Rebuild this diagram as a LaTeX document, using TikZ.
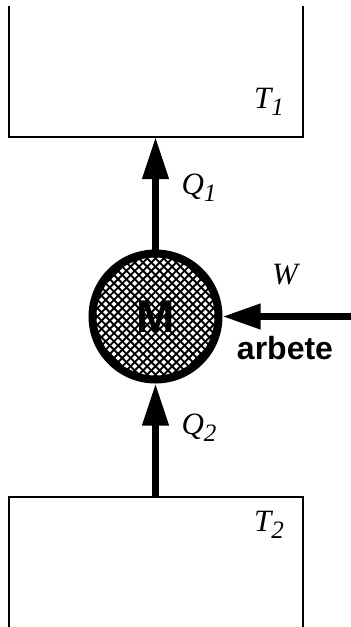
\documentclass[tikz,border=0pt]{standalone}
\usepackage{fontspec}
\setmainfont{Liberation Serif}
\setsansfont{Liberation Sans}
\usetikzlibrary{arrows.meta}
\newcommand{\sub}[1]{\raisebox{-7pt}{\fontsize{25}{25}\selectfont #1}}
\begin{document}
\begin{tikzpicture}[x=1pt,y=-1pt,
  wall/.style={line width=1.3pt},
  flow/.style={line width=7pt,-{Triangle[length=42pt,width=25pt]}},
  workflow/.style={line width=7pt,-{Triangle[length=38pt,width=24pt]}},
  lab/.style={font=\fontsize{31}{31}\selectfont\itshape, inner sep=0pt},
  hatch/.style={line width=1.9pt},
  engine/.style={circle, draw, line width=8pt, minimum size=126pt, inner sep=0pt,
    font=\fontsize{46}{46}\selectfont\sffamily\bfseries},
  bold/.style={font=\fontsize{32}{32}\selectfont\sffamily\bfseries, inner sep=0pt}
  ]
\useasboundingbox (0,0) rectangle (351,627);
\draw[wall] (9,6) -- (9,137) -- (303,137) -- (303,6);
\draw[wall] (9,627) -- (9,497) -- (303,497) -- (303,627);
\coordinate (hotin) at (155.5,137);
\coordinate (coldout) at (155.5,497);
\coordinate (win) at (351,316.5);
\begin{scope}
  \clip (155.5,316.5) circle (64);
  \foreach \k in {-20,...,20}{
    \draw[hatch] (75.5+\k*8.3,236.5) -- ++(160,160);
    \draw[hatch] (75.5+\k*8.3,396.5) -- ++(160,-160);
  }
\end{scope}
\node[engine] (M) at (155.5,316.5) {M};
\draw[flow] (M.north) -- (hotin);
\draw[flow] (coldout) -- (M.south);
\draw[workflow] (win) -- (M.east);
\node[lab] (T1) at (269,102) {T\sub{1}};
\node[lab] (T2) at (269,525) {T\sub{2}};
\node[lab] (Q1) at (199,188) {Q\sub{1}};
\node[lab] (Q2) at (199,428) {Q\sub{2}};
\node[lab] (W) at (285,275) {W};
\node[bold] (arb) at (285,348) {arbete};
\end{tikzpicture}
\end{document}
